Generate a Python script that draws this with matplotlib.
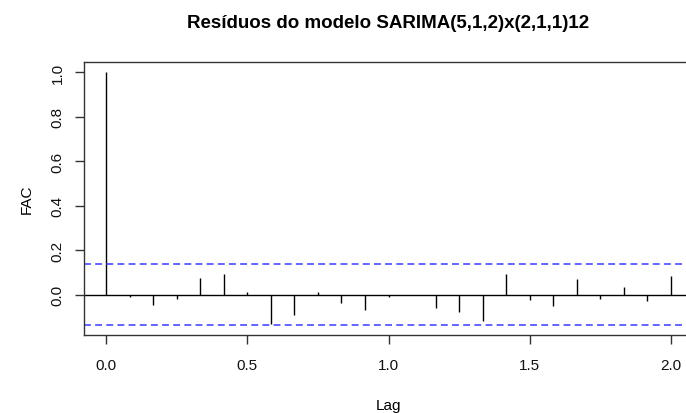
#!/usr/bin/env python3
"""ACF dos residuos - estilo R"""

import numpy as np
import matplotlib
matplotlib.use('Agg')
import matplotlib.pyplot as plt

plt.rcParams['font.family'] = ['Liberation Sans', 'DejaVu Sans']

# lags em anos (frequencia 12)
lags = np.arange(25) / 12.0
acf_vals = [1.0, -0.012, -0.046, -0.020, 0.074, 0.092, 0.013, -0.131, -0.091,
            0.010, -0.038, -0.067, -0.011, -0.002, -0.059, -0.077, -0.118,
            0.091, -0.025, -0.049, 0.071, -0.019, 0.035, -0.028, 0.082]
conf_lim = 0.136

title = 'Resíduos do modelo SARIMA(5,1,2)x(2,1,1)12'

fig = plt.figure(figsize=(6.86, 4.14), dpi=100)
ax = fig.add_axes([83.5 / 686, 1 - 336 / 414, 610 / 686, 273 / 414])

ax.vlines(lags, 0, acf_vals, color='black', linewidth=1.0)
ax.axhline(0, color='black', linewidth=1.0)
for c in (conf_lim, -conf_lim):
  ax.axhline(c, color='#3a3aff', linewidth=1.1, linestyle=(0, (4.5, 2.8)))

ax.set_xlim(-0.08, 2.08)
ax.set_ylim(-0.181, 1.045)
ax.set_xticks([0.0, 0.5, 1.0, 1.5, 2.0])
ax.set_xticklabels(['0.0', '0.5', '1.0', '1.5', '2.0'])
ax.set_yticks([0.0, 0.2, 0.4, 0.6, 0.8, 1.0])
ax.set_yticklabels(['0.0', '0.2', '0.4', '0.6', '0.8', '1.0'], rotation=90, va='center')

for side in ('top', 'right', 'left', 'bottom'):
  ax.spines[side].set_color('#333333')
  ax.spines[side].set_linewidth(1.0)
ax.tick_params(axis='both', direction='out', length=6.5, width=1.0, color='#333333',
               labelsize=11, labelcolor='#111111')
ax.tick_params(axis='x', pad=10)
ax.tick_params(axis='y', pad=7)

ax.set_title(title, fontsize=13.5, fontweight='bold', pad=25)
ax.set_xlabel('Lag', fontsize=11, labelpad=18.5)
ax.set_ylabel('FAC', fontsize=11, labelpad=12)

fig.savefig('out.png', dpi=100)
